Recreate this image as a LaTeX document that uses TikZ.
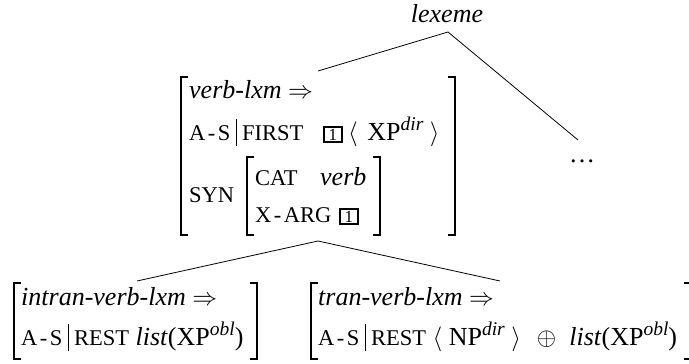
\documentclass[tikz,border=0pt]{standalone}
\usepackage{fontspec}
\setmainfont{Liberation Serif}
\newcommand\fs{\fontsize{26}{30}\selectfont}
\newcommand\smc[1]{{\fontsize{22.5}{26}\selectfont #1}}
\newcommand\hy{\kern2.5pt-\kern2.5pt}
\newcommand\sups[1]{\raisebox{10pt}{\fontsize{19.5}{20}\selectfont\itshape #1}}
\newcommand\vb{\hspace{5.5pt}\rule[-5.5pt]{0.7pt}{27pt}\hspace{5.5pt}}
\newcommand\tagb{{\setlength\fboxsep{1.2pt}\setlength\fboxrule{1.5pt}\fbox{\makebox[14pt]{\fontsize{17}{17}\selectfont 1}}}}
\begin{document}
\begin{tikzpicture}[x=1pt,y=-1pt,
  txt/.style={inner sep=0pt, anchor=base west, font=\fs},
  brk/.style={line width=1.4pt},
  edge/.style={line width=0.8pt}]
\clip (0,0) rectangle (689,364);
% top
\node[txt, anchor=base] (lex) at (447,23) {\textit{lexeme}};
\coordinate (root) at (448,32);
\coordinate (avmtop) at (318,71);
\coordinate (dotstop) at (578,140);
\node[txt, anchor=base] (dots) at (582,162) {\ldots};
\draw[edge] (root) -- (avmtop);
\draw[edge] (root) -- (dotstop);
% big AVM
\node[txt] (v1) at (189,98) {\textit{verb-lxm} $\Rightarrow$};
\node[txt] (as1) at (189,140) {\smc{A\hy S}\vb\smc{FIRST}};
\node[txt] (tag1) at (323,140) {\tagb};
\node[txt] (xp1) at (348,140) {$\langle$\hspace{3pt} XP\sups{dir} $\rangle$};
\node[txt] (syn) at (189,202) {\smc{SYN}};
\node[txt] (cat) at (255,185) {\smc{CAT}};
\node[txt] (verb) at (320,185) {\textit{verb}};
\node[txt] (xarg) at (255,222) {\smc{X\hy ARG}};
\node[txt] (tag2) at (339,222) {\tagb};
\draw[brk] (188,77) -- (181,77) -- (181,235) -- (188,235);
\draw[brk] (448,77) -- (455,77) -- (455,235) -- (448,235);
\draw[brk] (254,157) -- (247,157) -- (247,235) -- (254,235);
\draw[brk] (373,157) -- (380,157) -- (380,235) -- (373,235);
% lower connectors
\coordinate (mid) at (318,241);
\coordinate (intop) at (137,281);
\coordinate (trtop) at (500,281);
\draw[edge] (mid) -- (intop);
\draw[edge] (mid) -- (trtop);
% intran AVM
\node[txt] (v2) at (21,305) {\textit{intran-verb-lxm} $\Rightarrow$};
\node[txt] (rest2) at (21,345) {\smc{A\hy S}\vb\smc{REST} \textit{list}(XP\sups{obl})};
\draw[brk] (21,283) -- (14,283) -- (14,359) -- (21,359);
\draw[brk] (250,283) -- (257,283) -- (257,359) -- (250,359);
% tran AVM
\node[txt] (v3) at (318,305) {\textit{tran-verb-lxm} $\Rightarrow$};
\node[txt] (rest3) at (318,345) {\smc{A\hy S}\vb\smc{REST} $\langle$ NP\sups{dir} $\rangle$\hspace{16pt}$\oplus$\hspace{13pt}\textit{list}(XP\sups{obl})};
\draw[brk] (318,283) -- (311,283) -- (311,359) -- (318,359);
\draw[brk] (684,283) -- (691,283) -- (691,359) -- (684,359);
\end{tikzpicture}
\end{document}
